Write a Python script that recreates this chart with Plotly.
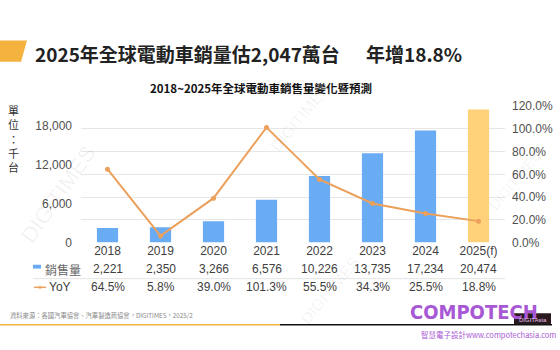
import plotly.graph_objects as go

years = ["2018", "2019", "2020", "2021", "2022", "2023", "2024", "2025(f)"]
sales = [2221, 2350, 3266, 6576, 10226, 13735, 17234, 20474]
yoy = [0.645, 0.058, 0.390, 1.013, 0.555, 0.343, 0.255, 0.188]
sales_labels = ["2,221", "2,350", "3,266", "6,576", "10,226", "13,735", "17,234", "20,474"]
yoy_labels = ["64.5%", "5.8%", "39.0%", "101.3%", "55.5%", "34.3%", "25.5%", "18.8%"]
left_ticks = [0, 6000, 12000, 18000]
left_ticktext = ["0", "6,000", "12,000", "18,000"]

W, H = 560, 350
def px(x):
    return x / W
def py(y):
    return (H - y) / H

BLUE = "#6AACF4"
YELLOW = "#FFD27A"
ORANGE = "#EBA05C"
CJK = "Noto Sans CJK TC, Noto Sans CJK SC, sans-serif"
NUM = "Liberation Sans, Arial, sans-serif"

idx = list(range(len(years)))
bar_colors = [BLUE] * (len(years) - 1) + [YELLOW]

fig = go.Figure()
fig.add_trace(go.Bar(x=idx, y=sales, marker=dict(color=bar_colors, line=dict(width=0)),
                     width=0.4, name="銷售量", xaxis="x", yaxis="y"))
fig.add_trace(go.Scatter(x=idx, y=yoy, mode="lines+markers", xaxis="x", yaxis="y2", name="YoY",
                         line=dict(color=ORANGE, width=2),
                         marker=dict(color=ORANGE, size=5)))

annotations = []
# Title
annotations.append(dict(text="<b>2025年全球電動車銷量估2,047萬台</b>", x=px(33), y=py(48),
                        xref="paper", yref="paper", xanchor="left", yanchor="middle",
                        showarrow=False, font=dict(family=CJK, size=19, color="#222222")))
annotations.append(dict(text="<b>年增18.8%</b>", x=px(364), y=py(48),
                        xref="paper", yref="paper", xanchor="left", yanchor="middle",
                        showarrow=False, font=dict(family=CJK, size=19, color="#222222")))
annotations.append(dict(text="<b>2018~2025年全球電動車銷售量變化暨預測</b>", x=px(261), y=py(84),
                        xref="paper", yref="paper", xanchor="center", yanchor="middle",
                        showarrow=False, font=dict(family=CJK, size=11.5, color="#111111")))
# Unit label (vertical)
annotations.append(dict(text="單<br>位<br>：<br>千<br>台", x=px(13), y=py(137),
                        xref="paper", yref="paper", xanchor="center", yanchor="middle",
                        showarrow=False, font=dict(family=CJK, size=11, color="#333333")))
# Table
for i in idx:
    annotations.append(dict(text=sales_labels[i], x=i, y=py(273), xref="x", yref="paper",
                            xanchor="center", yanchor="middle", showarrow=False,
                            font=dict(family=NUM, size=12, color="#404040")))
    annotations.append(dict(text=yoy_labels[i], x=i, y=py(292), xref="x", yref="paper",
                            xanchor="center", yanchor="middle", showarrow=False,
                            font=dict(family=NUM, size=12, color="#404040")))
annotations.append(dict(text="銷售量", x=px(43), y=py(273), xref="paper", yref="paper",
                        xanchor="left", yanchor="middle", showarrow=False,
                        font=dict(family=CJK, size=12, color="#666666")))
annotations.append(dict(text="YoY", x=px(47), y=py(292), xref="paper", yref="paper",
                        xanchor="left", yanchor="middle", showarrow=False,
                        font=dict(family=NUM, size=12, color="#404040")))
# Source
annotations.append(dict(text="資料來源：各國汽車協會、汽車製造商協會，DIGITIMES，2025/2", x=px(8), y=py(321),
                        xref="paper", yref="paper", xanchor="left", yanchor="middle",
                        showarrow=False, font=dict(family=CJK, size=6.3, color="#888888")))
# COMPOTECH logo text
annotations.append(dict(text="<b>COMPOTECH</b>", x=px(474), y=py(318), xref="paper", yref="paper",
                        xanchor="center", yanchor="middle", showarrow=False,
                        font=dict(family="DejaVu Sans Condensed, Liberation Sans Narrow, sans-serif",
                                  size=20, color="#A858D4")))
annotations.append(dict(text="智慧電子設計www.compotechasia.com", x=px(488), y=py(341), xref="paper", yref="paper",
                        xanchor="center", yanchor="middle", showarrow=False,
                        font=dict(family=CJK, size=7.5, color="#A858D4")))
annotations.append(dict(text="DIGITAsia", x=px(533), y=py(326), xref="paper", yref="paper",
                        xanchor="center", yanchor="middle", showarrow=False,
                        font=dict(family=NUM, size=6, color="#E8C0F0")))
# Faint watermarks
for (wx, wy, ang, sz) in [(58, 195, -55, 22), (300, 115, -50, 16), (515, 180, -50, 14), (330, 295, -50, 16)]:
    annotations.append(dict(text="DIGITIMES", x=px(wx), y=py(wy), xref="paper", yref="paper",
                            xanchor="center", yanchor="middle", showarrow=False, textangle=ang,
                            font=dict(family=NUM, size=sz, color="rgba(0,0,0,0.06)")))

shapes = [
    # orange parallelogram at top-left
    dict(type="path", xref="paper", yref="paper",
         path=f"M 0 {py(35)} L {px(27)} {py(35)} L {px(21)} {py(57)} L 0 {py(57)} Z",
         fillcolor="#F4B23E", line=dict(width=0)),
    # table legend symbols
    dict(type="rect", xref="paper", yref="paper", x0=px(33), x1=px(41), y0=py(272.5), y1=py(268.5),
         fillcolor=BLUE, line=dict(width=0)),
    dict(type="line", xref="paper", yref="paper", x0=px(34), x1=px(46), y0=py(292), y1=py(292),
         line=dict(color=ORANGE, width=1.5)),
    dict(type="circle", xref="paper", yref="paper", x0=px(38.5), x1=px(41.5), y0=py(293.5), y1=py(290.5),
         fillcolor=ORANGE, line=dict(width=0)),
    # table separator
    dict(type="line", xref="paper", yref="paper", x0=px(33), x1=px(505), y0=py(283), y1=py(283),
         line=dict(color="#E4E4E4", width=1)),
    # bottom rules
    dict(type="line", xref="paper", yref="paper", x0=0, x1=px(280), y0=py(331), y1=py(331),
         line=dict(color="#F0B440", width=1.5)),
    dict(type="line", xref="paper", yref="paper", x0=px(280), x1=px(552), y0=py(331), y1=py(331),
         line=dict(color="#111111", width=1.5)),
    dict(type="rect", xref="paper", yref="paper", x0=px(514), x1=px(551), y0=py(331), y1=py(319),
         fillcolor="#2A1A20", line=dict(width=0), layer="below"),
]

fig.update_layout(
    width=W, height=H, margin=dict(l=0, r=0, t=0, b=0),
    paper_bgcolor="white", plot_bgcolor="rgba(0,0,0,0)",
    showlegend=False,
    xaxis=dict(type="linear", domain=[px(81), px(505)], range=[-0.5, len(years) - 0.5],
               tickmode="array", tickvals=idx, ticktext=years,
               showgrid=False, zeroline=False, showline=False,
               ticks="", tickfont=dict(family=NUM, size=12, color="#404040")),
    yaxis=dict(domain=[py(245.3), py(103.3)], range=[0, 21000], tickvals=left_ticks,
               ticktext=left_ticktext, showgrid=False, zeroline=False, showline=False, ticks="",
               ticklabelstandoff=8,
               tickfont=dict(family=NUM, size=12, color="#505050")),
    yaxis2=dict(overlaying="y", side="right", anchor="x", range=[0, 1.2], dtick=0.2, tick0=0, tickformat=".1%",
                showgrid=True, gridcolor="#E6E6E6", gridwidth=1, zeroline=False, showline=False,
                ticks="", ticklabelstandoff=6,
                tickfont=dict(family=NUM, size=12, color="#505050")),
    annotations=annotations, shapes=shapes,
)

fig.write_html("out.html")
